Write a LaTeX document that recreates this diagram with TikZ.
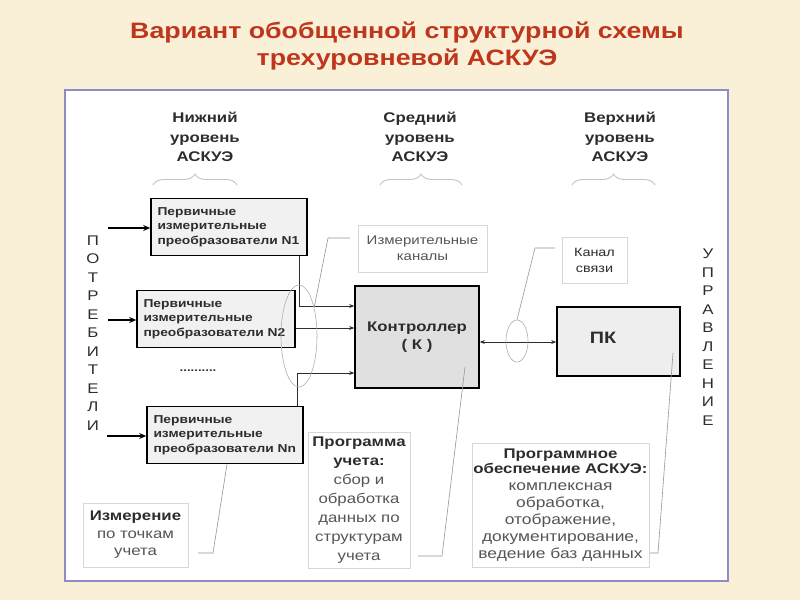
\documentclass[tikz,border=0pt]{standalone}
\usepackage{fontspec}
\setmainfont[FakeStretch=1.2]{Liberation Sans}
\usetikzlibrary{shapes.geometric,decorations.pathreplacing,arrows.meta}
\definecolor{bgc}{RGB}{250,240,216}
\definecolor{panelborder}{RGB}{140,140,200}
\definecolor{titlec}{RGB}{190,55,28}
\definecolor{nfill}{RGB}{241,241,241}
\definecolor{kfill}{RGB}{224,224,224}
\definecolor{pkfill}{RGB}{238,238,238}
\definecolor{txt}{RGB}{45,45,45}
\definecolor{gtxt}{RGB}{85,85,85}
\definecolor{lbox}{RGB}{215,215,215}
\definecolor{leadc}{RGB}{150,150,150}
\definecolor{bracec}{RGB}{195,195,195}
\definecolor{ellc}{RGB}{175,175,175}
\newcommand\myhead[1]{{\fontsize{14}{15}\selectfont\bfseries\color{txt}#1}}
\tikzset{
  nbox/.style={draw=black, line width=1.6pt, fill=nfill, minimum width=#1, minimum height=57pt,
    text width=#1-13pt, align=left, font=\fontsize{11.5}{14.5}\selectfont\bfseries, text=txt, inner sep=0pt},
  bigbox/.style={draw=black, line width=1.6pt, inner sep=0pt},
  lightbox/.style={draw=lbox, line width=0.8pt, fill=white, inner sep=0pt, align=center},
  conn/.style={draw=txt, line width=0.7pt, -{Stealth[length=5pt,width=4pt]}},
  inarr/.style={draw=black, line width=1.5pt, -{Stealth[length=7pt,width=6pt]}},
  leader/.style={draw=leadc, line width=0.6pt},
  lvl/.style={align=center, font=\fontsize{14}{19.5}\selectfont\bfseries, text=txt},
  vert/.style={align=center, font=\fontsize{14}{18.5}\selectfont, text=txt},
  bracestyle/.style={draw=bracec, line width=0.9pt, decorate, decoration={brace, amplitude=11pt}},
  ell/.style={draw=ellc, line width=0.6pt, ellipse, inner sep=0pt},
}
\begin{document}
\begin{tikzpicture}[x=1pt,y=-1pt]
\useasboundingbox (0,0) rectangle (800,600);
\fill[bgc] (0,0) rectangle (800,600);
\node[font=\fontsize{22.3}{27}\selectfont\bfseries, text=titlec, align=center] (title) at (407,46) {Вариант обобщенной структурной схемы\\трехуровневой АСКУЭ};
\draw[panelborder, fill=white, line width=1.3pt] (65,90) rectangle (728,581);

% level headers
\node[lvl] (L1) at (205,137) {Нижний\\уровень\\АСКУЭ};
\node[lvl] (L2) at (420,137) {Средний\\уровень\\АСКУЭ};
\node[lvl] (L3) at (620,137) {Верхний\\уровень\\АСКУЭ};
\draw[bracestyle] (153,185) -- (237,185);
\draw[bracestyle] (380,185) -- (462,185);
\draw[bracestyle] (572,185) -- (655,185);

% side labels
\node[vert] (potr) at (93,333) {П\\О\\Т\\Р\\Е\\Б\\И\\Т\\Е\\Л\\И};
\node[vert] (upr) at (708,337) {У\\П\\Р\\А\\В\\Л\\Е\\Н\\И\\Е};

% primary converter boxes
\node[nbox=156pt] (N1) at (229,227) {Первичные\\измерительные\\преобразователи N1};
\node[nbox=158pt] (N2) at (216,319) {Первичные\\измерительные\\преобразователи N2};
\node[nbox=156pt] (Nn) at (225,435) {Первичные\\измерительные\\преобразователи Nn};
\node[font=\fontsize{11}{14}\selectfont\bfseries, text=txt] (dots) at (198,371) {..........};

\coordinate (in1) at (108,228);
\coordinate (in2) at (108,320);
\coordinate (in3) at (107,436);
\draw[inarr] (in1) -- (in1 -| N1.west);
\draw[inarr] (in2) -- (in2 -| N2.west);
\draw[inarr] (in3) -- (in3 -| Nn.west);

% controller and PC
\node[bigbox, fill=kfill, minimum width=124pt, minimum height=102pt, align=center,
  font=\fontsize{14}{18.5}\selectfont\bfseries, text=txt] (K) at (417,337) {Контроллер\\( К )};
\node[bigbox, fill=pkfill, minimum width=123pt, minimum height=69pt] (PK) at (618.5,341.5) {};
\node[font=\fontsize{16.5}{20}\selectfont\bfseries, text=txt] (PKt) at (603,338) {ПК};

% connectors to controller
\draw[conn] ([xshift=70pt]N1.south) |- ([yshift=31pt]K.west);
\draw[conn] ([yshift=-9pt]N2.east) -- ([yshift=9pt]K.west);
\draw[conn] ([xshift=72pt]Nn.north) |- ([yshift=-36pt]K.west);
\draw[draw=txt, line width=0.7pt, {Stealth[length=5pt,width=4pt]}-{Stealth[length=5pt,width=4pt]}] ([yshift=-5pt]K.east) -- ([yshift=-0.5pt]PK.west);

% ellipses
\node[ell, minimum width=36pt, minimum height=102pt] (E1) at (299,336) {};
\node[ell, minimum width=22pt, minimum height=42pt] (E2) at (517,341) {};

% callout boxes
\node[lightbox, minimum width=129pt, minimum height=47pt, font=\fontsize{12.5}{16}\selectfont, text=gtxt] (IK) at (422.5,248.5) {Измерительные\\каналы};
\node[lightbox, minimum width=65pt, minimum height=46pt, font=\fontsize{12}{16}\selectfont, text=txt] (KS) at (594.5,260) {Канал\\связи};
\node[lightbox, minimum width=102pt, minimum height=136pt, font=\fontsize{14}{19}\selectfont, text=gtxt] (PU) at (359,500) {\textbf{\color{txt}Программа}\\\textbf{\color{txt}учета:}\\сбор и\\обработка\\данных по\\структурам\\учета};
\node[lightbox, minimum width=177pt, minimum height=124pt, font=\fontsize{14.5}{17}\selectfont, text=gtxt] (PO) at (560.5,505) {\myhead{Программное}\\[-2pt]\myhead{обеспечение АСКУЭ:}\\комплексная\\обработка,\\отображение,\\документирование,\\ведение баз данных};
\node[lightbox, minimum width=105pt, minimum height=64pt, font=\fontsize{14}{17.5}\selectfont, text=gtxt] (IZ) at (135.5,535) {\textbf{\color{txt}Измерение}\\по точкам\\учета};

% leaders
\coordinate (a1) at (350,238);
\coordinate (a2) at (328,238);
\draw[leader] (a1) -- (a2) -- (E1.62);
\coordinate (b1) at (555,248);
\coordinate (b2) at (535,248);
\draw[leader] (b1) -- (b2) -- (E2.north);
\coordinate (c1) at (465,367);
\coordinate (c2) at (442,556);
\coordinate (c3) at (418,556);
\draw[leader] (c1) -- (c2) -- (c3);
\coordinate (d1) at (673,353);
\coordinate (d2) at (658,553);
\coordinate (d3) at (650,553);
\draw[leader] (d1) -- (d2) -- (d3);
\coordinate (e2) at (213,553);
\coordinate (e3) at (198,553);
\draw[leader] ([xshift=2pt]Nn.south) -- (e2) -- (e3);
\end{tikzpicture}
\end{document}
